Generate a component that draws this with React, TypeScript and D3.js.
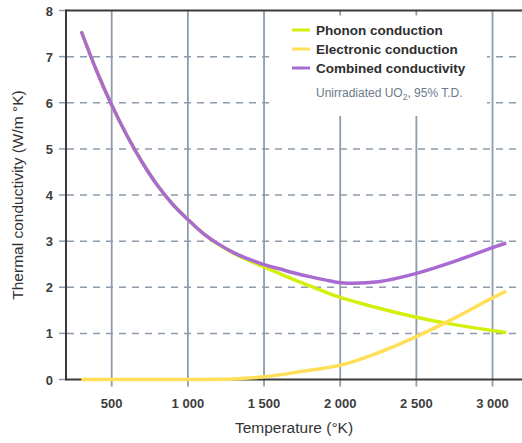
import React from "react";
import * as d3 from "d3";

const temps = [300, 400, 500, 600, 700, 800, 900, 1000, 1100, 1200, 1300, 1400, 1500, 1600, 1700, 1800, 1900, 2000, 2250, 2500, 2750, 3000, 3090];
const phonon = [7.55, 6.7, 5.95, 5.29, 4.71, 4.21, 3.8, 3.47, 3.17, 2.93, 2.74, 2.58, 2.44, 2.3, 2.16, 2.03, 1.9, 1.78, 1.55, 1.35, 1.19, 1.06, 1.02];
const electronic = [0, 0, 0, 0, 0, 0, 0, 0, 0.002, 0.005, 0.012, 0.03, 0.06, 0.1, 0.15, 0.2, 0.25, 0.31, 0.58, 0.93, 1.33, 1.77, 1.92];
const combined = [7.55, 6.7, 5.95, 5.29, 4.71, 4.21, 3.8, 3.47, 3.17, 2.94, 2.75, 2.61, 2.49, 2.4, 2.31, 2.23, 2.16, 2.1, 2.12, 2.3, 2.56, 2.86, 2.96];

const xTicks = [500, 1000, 1500, 2000, 2500, 3000];
const xTickLabels = ["500", "1 000", "1 500", "2 000", "2 500", "3 000"];
const yTicks = [0, 1, 2, 3, 4, 5, 6, 7, 8];

const seriesNames = ["Phonon conduction", "Electronic conduction", "Combined conductivity"];
const seriesColors = ["#d4ef0c", "#ffdf5a", "#a96bd2"];

const W = 522;
const H = 443;
const FONT = "'Liberation Sans', Arial, sans-serif";

export default function App() {
  const x = d3.scaleLinear().domain([200, 3200]).range([66, 523]);
  const y = d3.scaleLinear().domain([0, 8]).range([379.5, 10.5]);
  const mkLine = (curve: any) =>
    d3
      .line<[number, number]>()
      .x((d) => x(d[0]))
      .y((d) => y(d[1]))
      .curve(curve);
  const curves = [d3.curveCatmullRom.alpha(0.5), d3.curveMonotoneX, d3.curveCatmullRom.alpha(0.5)];
  const series = [phonon, electronic, combined];
  const gridColor = "#8d9cac";
  const axisColor = "#3a3a3a";

  return (
    <svg width={W} height={H} style={{ position: "absolute", left: 0, top: 0, background: "#fff" }}>
      <rect x={0} y={0} width={W} height={H} fill="#fff" />
      {/* horizontal dashed grid */}
      {yTicks.filter((t) => t > 0 && t < 8).map((t) => (
        <line key={"hg" + t} x1={67} x2={W} y1={y(t)} y2={y(t)} stroke={gridColor} strokeWidth={1.5} strokeDasharray="7,6" />
      ))}
      {/* vertical grid */}
      {xTicks.map((t) => (
        <line key={"vg" + t} x1={x(t)} x2={x(t)} y1={y(8)} y2={y(0) + 7} stroke={gridColor} strokeWidth={1.8} />
      ))}
      {/* legend background hides grid */}
      <rect x={272} y={11.5} width={215} height={104.5} fill="#fff" />
      {[2000, 2500].map((t) => (
        <line key={"tt" + t} x1={x(t)} x2={x(t)} y1={y(8)} y2={y(8) + 5} stroke={gridColor} strokeWidth={1.8} />
      ))}
      {/* y ticks */}
      {yTicks.map((t) => (
        <line key={"yt" + t} x1={59} x2={66} y1={y(t)} y2={y(t)} stroke={gridColor} strokeWidth={1.5} />
      ))}
      {/* axes */}
      <line x1={66} x2={W} y1={y(8)} y2={y(8)} stroke={axisColor} strokeWidth={2} />
      <line x1={66} x2={W} y1={y(0)} y2={y(0)} stroke={axisColor} strokeWidth={2} />
      <line x1={66} x2={66} y1={y(8) - 1} y2={y(0) + 1} stroke={axisColor} strokeWidth={2} />
      {/* curves */}
      {series.map((s, i) => (
        <path
          key={"s" + i}
          d={mkLine(curves[i])(temps.map((t, j) => [t, s[j]] as [number, number])) || ""}
          fill="none"
          stroke={seriesColors[i]}
          strokeWidth={3.5}
          strokeLinecap="butt"
        />
      ))}
      {/* tick labels */}
      {yTicks.map((t) => (
        <text key={"yl" + t} x={53} y={y(t) + 5} textAnchor="end" fontFamily={FONT} fontSize={13} fontWeight="bold" fill="#3d3d3d">
          {t}
        </text>
      ))}
      {xTicks.map((t, i) => (
        <text key={"xl" + t} x={x(t)} y={408} textAnchor="middle" fontFamily={FONT} fontSize={13} fontWeight="bold" fill="#3d3d3d">
          {xTickLabels[i]}
        </text>
      ))}
      {/* axis titles */}
      <text x={294} y={433} textAnchor="middle" fontFamily={FONT} fontSize={15.5} fill="#333">
        Temperature (°K)
      </text>
      <text
        transform={`translate(23, ${y(4)}) rotate(-90)`}
        textAnchor="middle"
        fontFamily={FONT}
        fontSize={15.5}
        fill="#333"
      >
        Thermal conductivity (W/m °K)
      </text>
      {/* legend */}
      {seriesNames.map((n, i) => (
        <g key={"lg" + i}>
          <line x1={292} x2={310} y1={30 + i * 19} y2={30 + i * 19} stroke={seriesColors[i]} strokeWidth={3} />
          <text x={316} y={35 + i * 19} fontFamily={FONT} fontSize={13.5} fontWeight="bold" fill="#2e2e2e">
            {n}
          </text>
        </g>
      ))}
      <text x={316} y={97} fontFamily={FONT} fontSize={12} fill="#6b7a8c">
        Unirradiated UO<tspan fontSize={8.5} dy={3}>2</tspan>
        <tspan dy={-3}>, 95% T.D.</tspan>
      </text>
    </svg>
  );
}
